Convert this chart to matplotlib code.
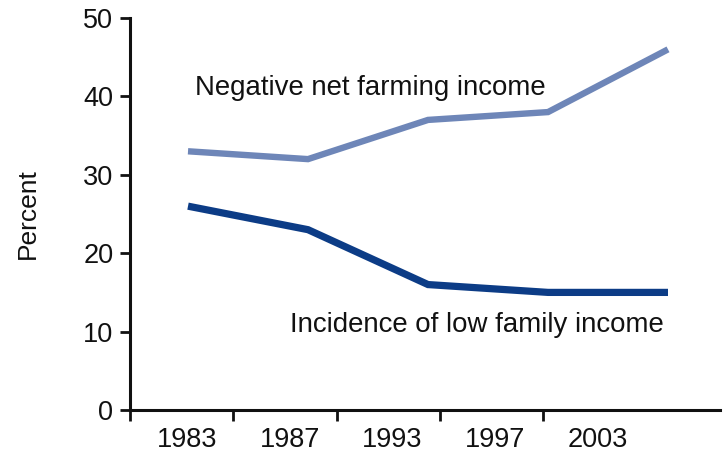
import matplotlib.pyplot as plt

years = ["1983", "1987", "1993", "1997", "2003"]
negative_farm_income = [33, 32, 37, 38, 46]
low_family_income = [26, 23, 16, 15, 15]

plt.rcParams['font.family'] = ['Liberation Sans', 'DejaVu Sans']

W, H = 723, 459
fig = plt.figure(figsize=(W / 100, H / 100), dpi=100)
# axes box in pixels: left 130, right 720, top 18, bottom 410
ax = fig.add_axes([130 / W, 1 - 410 / H, 590 / W, 392 / H])

# data points sit at pixel 188 + 120*i
def px(p):
    return (p - 188) / 120.0

x = list(range(len(years)))
ax.plot(x, negative_farm_income, color='#6e86b8', lw=4.6, solid_capstyle='butt',
        solid_joinstyle='miter')
ax.plot(x, low_family_income, color='#0c3c86', lw=5.2, solid_capstyle='butt',
        solid_joinstyle='miter')

ax.set_xlim(px(130), px(720))
ax.set_ylim(0, 50)

ax.set_yticks([0, 10, 20, 30, 40, 50])
ax.tick_params(axis='y', length=7, width=2, labelsize=19.5, pad=5, colors='#111111')
ax.set_ylabel('Percent', fontsize=19, labelpad=31, color='#111111')

# category dividers as major ticks, labels as minor ticks between them
ax.set_xticks([px(130 + 103.3 * i) for i in range(5)])
ax.set_xticklabels([])
ax.set_xticks([px(187 + 102.6 * i) for i in range(5)], minor=True)
ax.set_xticklabels(years, minor=True)
ax.tick_params(axis='x', which='major', length=8, width=2, colors='#111111')
ax.tick_params(axis='x', which='minor', length=0, labelsize=19.5, pad=12, colors='#111111')

for s in ['top', 'right']:
    ax.spines[s].set_visible(False)
for s in ['left', 'bottom']:
    ax.spines[s].set_linewidth(2.2)
    ax.spines[s].set_color('#111111')

ax.text(px(195), 41.1, 'Negative net farming income', fontsize=19.9,
        ha='left', va='center', color='#111111')
ax.text(px(290), 10.8, 'Incidence of low family income', fontsize=19.9,
        ha='left', va='center', color='#111111')

fig.savefig('out.png', dpi=100)
